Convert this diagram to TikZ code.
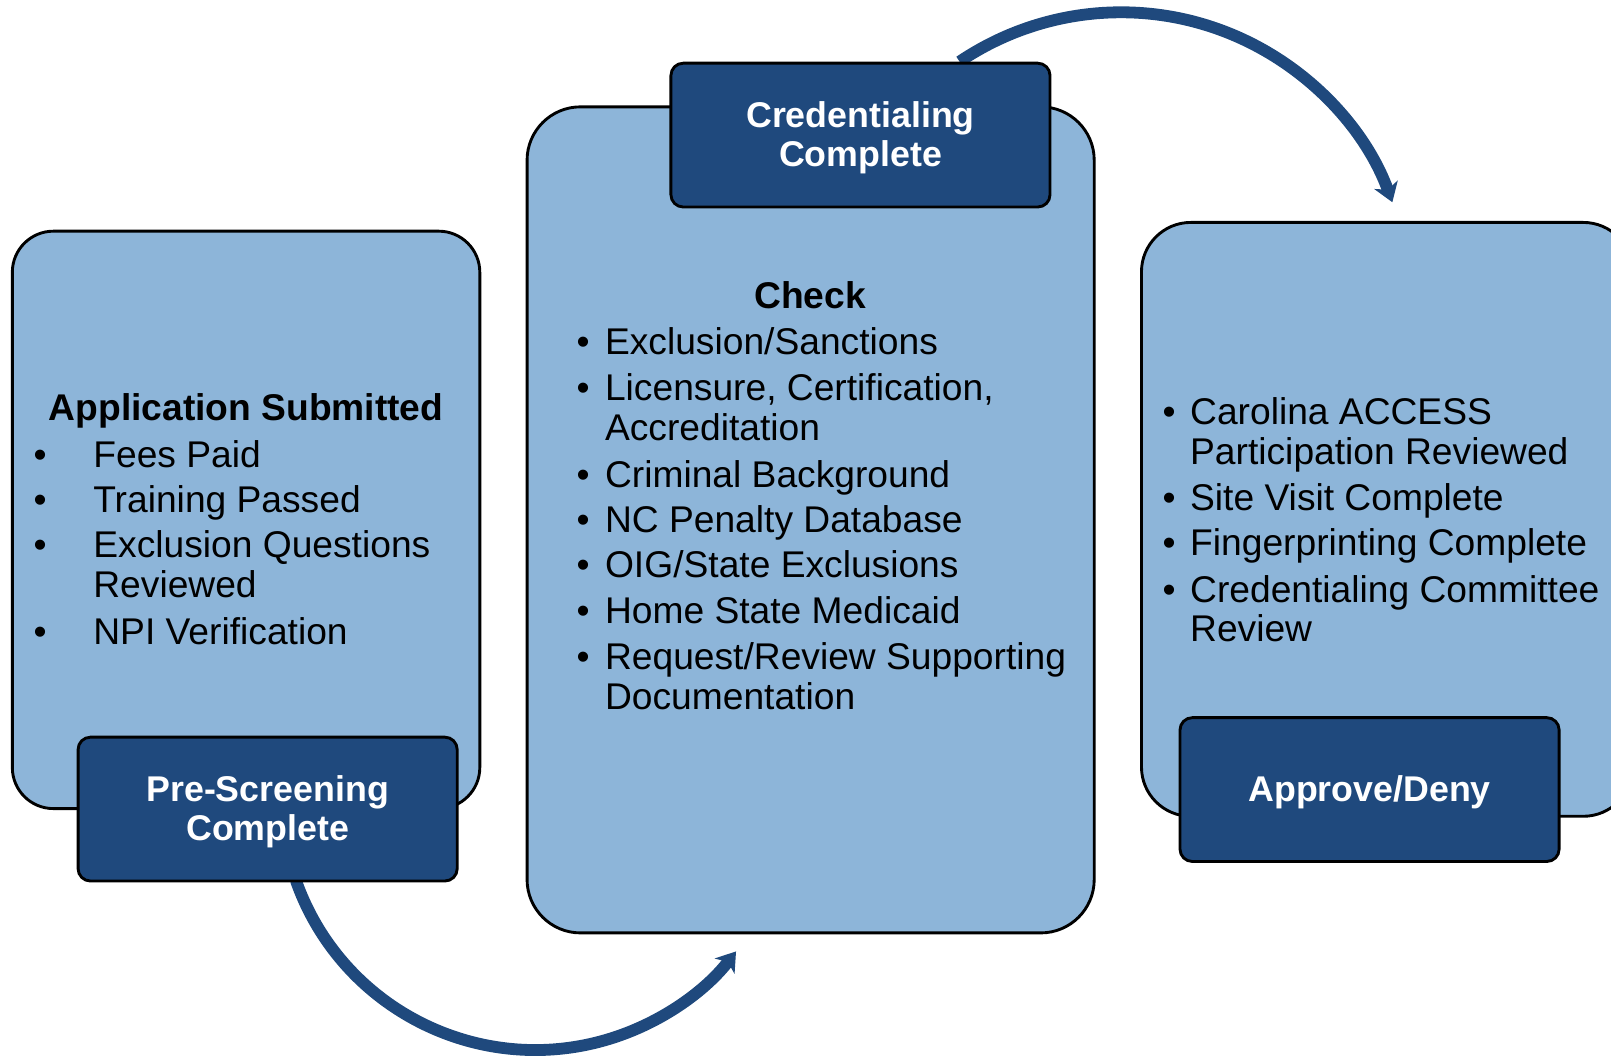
\documentclass[tikz,border=0pt]{standalone}
\usepackage{fontspec}
\setmainfont{Liberation Sans}
\usetikzlibrary{arrows.meta}

\definecolor{panelblue}{HTML}{8DB5D9}
\definecolor{tabblue}{HTML}{1F497D}

\newcommand\mybodyfont{\fontsize{18.1pt}{19.3pt}\selectfont}
\newcommand\mytabfont{\fontsize{17.4pt}{19pt}\selectfont\bfseries}

\tikzset{
  panel/.style={draw=black, line width=1.4pt, fill=panelblue, inner sep=0pt},
  tab/.style={draw=black, line width=1.4pt, fill=tabblue, rounded corners=6pt,
    inner sep=0pt, minimum width=184.5pt, minimum height=70pt},
  tablabel/.style={text=white, font=\mytabfont, align=center, inner sep=0pt,
    yshift=-1.3pt},
  body/.style={anchor=base west, inner sep=0pt, font=\mybodyfont},
  head/.style={body, font=\mybodyfont\bfseries},
  dot/.style={anchor=base, inner sep=0pt, font=\mybodyfont},
  flow/.style={draw=tabblue, line width=5.75pt,
    -{Stealth[length=9pt, width=12pt, inset=2.5pt]}}
}

\begin{document}
\begin{tikzpicture}[x=0.5pt, y=-0.5pt]
\useasboundingbox (0,0) rectangle (1568,1027);
\clip (0,0) rectangle (1568,1027);

% curved flow arrows (drawn first so the tabs sit on top of their tails)
\coordinate (preArcStart) at (288,857);
\coordinate (credArcStart) at (934,60);
\draw[flow] (preArcStart) arc[start angle=160.6, end angle=37.7, radius=247];
\draw[flow] (credArcStart) arc[start angle=-124, end angle=-20, radius=281];

% three stage panels
\node[panel, rounded corners=20pt, minimum width=227.5pt, minimum height=281pt]
  (stage1) at (239.5,506) {};
\node[panel, rounded corners=26pt, minimum width=276pt, minimum height=402pt]
  (stage2) at (789,506) {};
\node[panel, rounded corners=24pt, minimum width=239pt, minimum height=289pt]
  (stage3) at (1350,505.5) {};

% dark milestone tabs and their labels
\node[tab] (pre) at (260.5,787.5) {};
\node[tab] (cred) at (837.5,131.5) {};
\node[tab] (decide) at (1333,768.5) {};
\node[tablabel] (preText) at (pre.center) {Pre-Screening\\Complete};
\node[tablabel] (credText) at (cred.center) {Credentialing\\Complete};
\node[tablabel] (decideText) at (decide.center) {Approve/Deny};

% stage 1 text
\node[head] (s1h) at (47,409) {Application Submitted};
\node[dot] (s1b1) at (39,455) {•};
\node[body] (s1t1) at (90.5,455) {Fees Paid};
\node[dot] (s1b2) at (39,499) {•};
\node[body] (s1t2) at (90.5,499) {Training Passed};
\node[dot] (s1b3) at (39,543) {•};
\node[body] (s1t3) at (90.5,543) {Exclusion Questions};
\node[body] (s1t3b) at (90.5,582) {Reviewed};
\node[dot] (s1b4) at (39,627) {•};
\node[body] (s1t4) at (90.5,627) {NPI Verification};

% stage 2 text
\node[head, anchor=base] (s2h) at (788.5,300) {Check};
\node[dot] (s2b1) at (567.5,345) {•};
\node[body] (s2t1) at (588.5,345) {Exclusion/Sanctions};
\node[dot] (s2b2) at (567.5,390) {•};
\node[body] (s2t2) at (588.5,390) {Licensure, Certification,};
\node[body] (s2t2b) at (588.5,428.5) {Accreditation};
\node[dot] (s2b3) at (567.5,474) {•};
\node[body] (s2t3) at (588.5,474) {Criminal Background};
\node[dot] (s2b4) at (567.5,518) {•};
\node[body] (s2t4) at (588.5,518) {NC Penalty Database};
\node[dot] (s2b5) at (567.5,562.5) {•};
\node[body] (s2t5) at (588.5,562.5) {OIG/State Exclusions};
\node[dot] (s2b6) at (567.5,607) {•};
\node[body] (s2t6) at (588.5,607) {Home State Medicaid};
\node[dot] (s2b7) at (567.5,651.5) {•};
\node[body] (s2t7) at (588.5,651.5) {Request/Review Supporting};
\node[body] (s2t7b) at (588.5,690.5) {Documentation};

% stage 3 text
\node[dot] (s3b1) at (1138,413.5) {•};
\node[body] (s3t1) at (1158,413.5) {Carolina ACCESS};
\node[body] (s3t1b) at (1158,452) {Participation Reviewed};
\node[dot] (s3b2) at (1138,497) {•};
\node[body] (s3t2) at (1158,497) {Site Visit Complete};
\node[dot] (s3b3) at (1138,541) {•};
\node[body] (s3t3) at (1158,541) {Fingerprinting Complete};
\node[dot] (s3b4) at (1138,586) {•};
\node[body] (s3t4) at (1158,586) {Credentialing Committee};
\node[body] (s3t4b) at (1158,624.5) {Review};
\end{tikzpicture}
\end{document}
